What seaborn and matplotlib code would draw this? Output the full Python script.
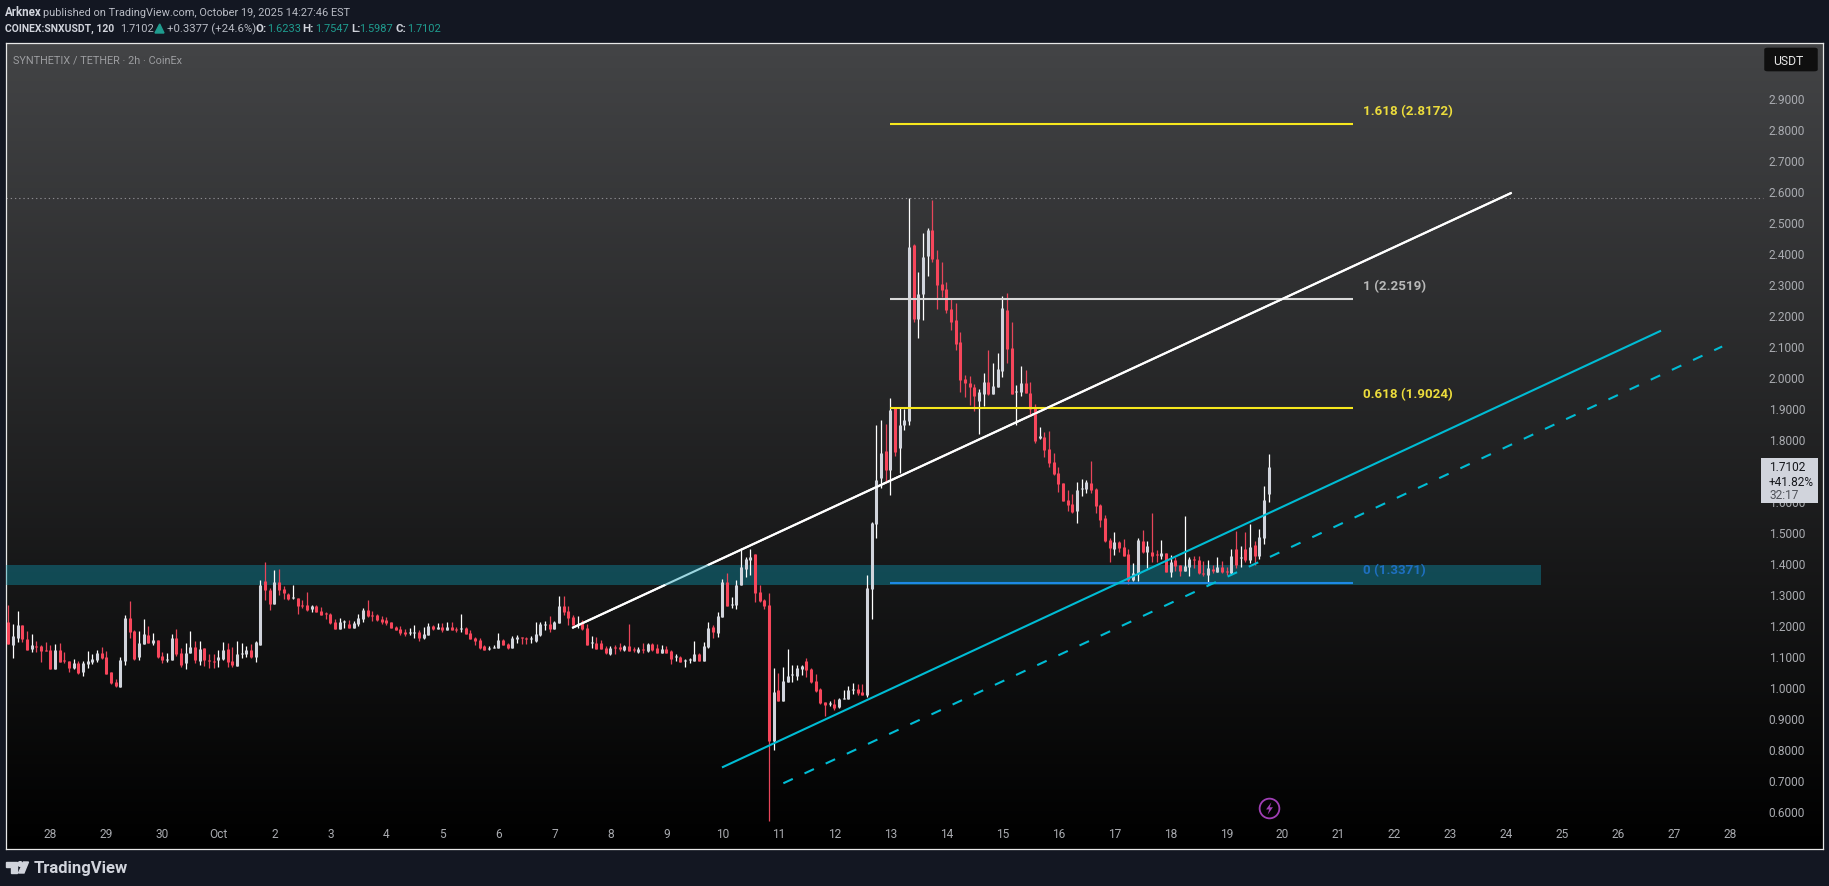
#!/usr/bin/env python3
"""SNX/USDT 2h candle chart with trend lines and fib levels, TradingView look."""
import numpy as np
import pandas as pd
import matplotlib
matplotlib.use('Agg')
import matplotlib.pyplot as plt
import seaborn as sns
from matplotlib.colors import LinearSegmentedColormap
from matplotlib.patches import Ellipse, FancyBboxPatch, Polygon, Rectangle

# candles (2h bars from Sep 27 to Oct 19)
opens = [
    1.211,1.137,1.160,1.202,1.156,1.123,1.134,1.134,1.120,1.121,
    1.060,1.121,1.088,1.085,1.063,1.079,1.050,1.076,1.082,1.089,
    1.111,1.098,1.050,1.018,1.002,1.085,1.224,1.182,1.098,1.140,
    1.169,1.144,1.153,1.102,1.090,1.089,1.160,1.111,1.079,1.111,
    1.131,1.085,1.127,1.089,1.085,1.089,1.092,1.124,1.085,1.069,
    1.109,1.108,1.121,1.098,1.137,1.344,1.314,1.269,1.340,1.318,
    1.302,1.288,1.289,1.266,1.266,1.253,1.263,1.247,1.240,1.237,
    1.211,1.189,1.211,1.205,1.192,1.205,1.221,1.250,1.233,1.234,
    1.221,1.218,1.211,1.195,1.189,1.179,1.176,1.176,1.179,1.160,
    1.169,1.198,1.189,1.195,1.185,1.195,1.189,1.188,1.192,1.176,
    1.160,1.153,1.133,1.123,1.128,1.127,1.153,1.140,1.127,1.156,
    1.162,1.159,1.156,1.150,1.169,1.202,1.205,1.189,1.208,1.263,
    1.247,1.227,1.202,1.208,1.192,1.142,1.144,1.144,1.127,1.108,
    1.130,1.130,1.121,1.134,1.124,1.114,1.124,1.118,1.140,1.127,
    1.111,1.124,1.118,1.098,1.098,1.085,1.088,1.085,1.108,1.085,
    1.131,1.195,1.176,1.227,1.340,1.265,1.266,1.331,1.382,1.411,
    1.431,1.308,1.282,1.266,0.827,0.992,0.956,1.018,1.039,1.037,
    1.060,1.085,1.060,1.021,0.995,0.953,0.947,0.947,0.937,0.963,
    0.963,0.992,0.995,0.985,0.976,1.318,1.528,1.676,1.763,1.702,
    1.902,1.773,1.847,1.859,2.427,2.188,2.269,2.392,2.475,2.382,
    2.301,2.285,2.221,2.185,2.114,1.995,1.982,1.969,1.924,1.946,
    1.985,1.946,1.969,2.021,2.217,2.095,1.953,1.953,1.982,1.950,
    1.901,1.806,1.808,1.769,1.727,1.692,1.660,1.605,1.592,1.569,
    1.641,1.640,1.660,1.640,1.589,1.547,1.476,1.447,1.469,1.453,
    1.430,1.347,1.366,1.472,1.437,1.437,1.430,1.424,1.434,1.372,
    1.411,1.395,1.376,1.389,1.415,1.411,1.369,1.363,1.382,1.372,
    1.389,1.376,1.369,1.447,1.419,1.447,1.411,1.459,1.424,1.482,
    1.6233,
]
highs = [
    1.266,1.205,1.247,1.202,1.182,1.173,1.150,1.137,1.147,1.137,
    1.140,1.144,1.114,1.085,1.092,1.085,1.085,1.118,1.108,1.121,
    1.131,1.118,1.050,1.027,1.098,1.234,1.279,1.185,1.182,1.221,
    1.198,1.176,1.153,1.114,1.111,1.173,1.189,1.127,1.144,1.182,
    1.150,1.150,1.127,1.108,1.108,1.121,1.147,1.144,1.131,1.150,
    1.144,1.134,1.140,1.150,1.347,1.405,1.321,1.379,1.382,1.327,
    1.305,1.331,1.289,1.282,1.308,1.266,1.266,1.260,1.243,1.240,
    1.221,1.224,1.218,1.218,1.214,1.237,1.256,1.282,1.247,1.237,
    1.231,1.227,1.211,1.198,1.198,1.189,1.192,1.202,1.185,1.195,
    1.208,1.202,1.208,1.208,1.211,1.211,1.195,1.237,1.195,1.185,
    1.163,1.160,1.137,1.134,1.137,1.176,1.156,1.144,1.166,1.169,
    1.163,1.163,1.166,1.211,1.211,1.214,1.231,1.214,1.295,1.295,
    1.263,1.234,1.231,1.218,1.205,1.166,1.163,1.153,1.134,1.134,
    1.137,1.144,1.137,1.205,1.131,1.131,1.144,1.144,1.144,1.140,
    1.137,1.134,1.121,1.108,1.102,1.092,1.095,1.150,1.111,1.147,
    1.211,1.202,1.243,1.350,1.369,1.292,1.347,1.450,1.421,1.447,
    1.431,1.331,1.285,1.305,1.063,1.047,1.066,1.124,1.073,1.073,
    1.073,1.095,1.063,1.043,0.998,0.953,0.956,0.963,0.966,0.992,
    1.005,1.014,1.011,1.011,1.363,1.533,1.847,1.863,1.850,1.934,
    1.905,1.902,1.898,2.579,2.430,2.340,2.466,2.482,2.572,2.411,
    2.372,2.308,2.253,2.240,2.146,2.008,2.005,1.979,1.963,2.014,
    2.088,2.046,2.079,2.263,2.272,2.179,1.975,2.037,2.024,1.985,
    1.914,1.840,1.824,1.827,1.756,1.711,1.660,1.637,1.624,1.663,
    1.672,1.669,1.731,1.643,1.592,1.556,1.482,1.501,1.472,1.479,
    1.447,1.401,1.482,1.508,1.472,1.563,1.443,1.476,1.434,1.427,
    1.421,1.395,1.553,1.421,1.424,1.424,1.408,1.411,1.395,1.421,
    1.408,1.389,1.447,1.505,1.456,1.501,1.527,1.472,1.511,1.650,
    1.7547,
]
lows = [
    1.140,1.095,1.148,1.148,1.121,1.114,1.114,1.082,1.118,1.060,
    1.060,1.082,1.079,1.050,1.060,1.043,1.037,1.063,1.076,1.082,
    1.092,1.043,1.011,1.002,1.002,1.073,1.160,1.089,1.089,1.140,
    1.144,1.137,1.095,1.079,1.082,1.089,1.102,1.066,1.060,1.111,
    1.079,1.073,1.069,1.063,1.063,1.066,1.089,1.066,1.066,1.069,
    1.095,1.098,1.095,1.082,1.137,1.282,1.250,1.269,1.298,1.285,
    1.282,1.285,1.237,1.256,1.247,1.243,1.243,1.234,1.221,1.205,
    1.189,1.189,1.192,1.192,1.192,1.198,1.211,1.227,1.214,1.214,
    1.205,1.202,1.192,1.185,1.169,1.166,1.169,1.160,1.150,1.156,
    1.169,1.185,1.189,1.179,1.185,1.185,1.179,1.180,1.173,1.156,
    1.137,1.124,1.121,1.121,1.127,1.127,1.137,1.124,1.127,1.144,
    1.140,1.140,1.144,1.147,1.166,1.185,1.179,1.189,1.208,1.234,
    1.202,1.202,1.192,1.185,1.137,1.127,1.124,1.124,1.108,1.105,
    1.108,1.118,1.118,1.118,1.114,1.111,1.111,1.114,1.118,1.111,
    1.111,1.111,1.076,1.085,1.082,1.066,1.079,1.085,1.085,1.085,
    1.127,1.160,1.163,1.227,1.263,1.256,1.253,1.331,1.356,1.363,
    1.276,1.276,1.253,0.569,0.798,0.956,0.956,1.018,1.018,1.024,
    1.040,1.034,1.014,0.985,0.947,0.908,0.940,0.927,0.934,0.963,
    0.963,0.979,0.976,0.976,0.969,1.221,1.482,1.644,1.663,1.621,
    1.747,1.692,1.831,1.846,2.179,2.127,2.185,2.327,2.372,2.221,
    2.259,2.208,2.153,2.088,1.953,1.937,1.911,1.892,1.817,1.908,
    1.943,1.946,1.969,2.001,2.046,1.946,1.846,1.940,1.950,1.875,
    1.788,1.801,1.743,1.711,1.685,1.631,1.602,1.569,1.563,1.531,
    1.618,1.627,1.627,1.563,1.518,1.469,1.405,1.427,1.437,1.424,
    1.334,1.343,1.343,1.434,1.385,1.405,1.405,1.414,1.372,1.356,
    1.376,1.360,1.376,1.360,1.385,1.366,1.360,1.334,1.369,1.372,
    1.369,1.363,1.366,1.385,1.389,1.405,1.401,1.395,1.414,1.463,
    1.5987,
]
closes = [
    1.140,1.166,1.202,1.156,1.121,1.137,1.132,1.118,1.118,1.060,
    1.121,1.082,1.084,1.063,1.079,1.047,1.079,1.085,1.092,1.111,
    1.095,1.043,1.014,1.005,1.089,1.224,1.179,1.092,1.144,1.173,
    1.144,1.153,1.098,1.089,1.092,1.160,1.108,1.073,1.111,1.131,
    1.089,1.124,1.089,1.087,1.083,1.098,1.121,1.082,1.073,1.108,
    1.111,1.121,1.098,1.147,1.331,1.314,1.269,1.340,1.314,1.305,
    1.285,1.291,1.263,1.263,1.250,1.263,1.243,1.234,1.237,1.208,
    1.189,1.211,1.214,1.192,1.208,1.224,1.250,1.230,1.231,1.218,
    1.211,1.208,1.192,1.185,1.176,1.173,1.178,1.178,1.160,1.173,
    1.198,1.189,1.195,1.185,1.195,1.185,1.187,1.191,1.173,1.156,
    1.150,1.127,1.121,1.127,1.131,1.153,1.137,1.127,1.160,1.163,
    1.159,1.156,1.160,1.173,1.205,1.205,1.189,1.211,1.263,1.243,
    1.224,1.202,1.205,1.189,1.137,1.146,1.124,1.124,1.111,1.127,
    1.127,1.124,1.134,1.118,1.121,1.124,1.121,1.140,1.121,1.111,
    1.124,1.111,1.092,1.100,1.082,1.088,1.091,1.108,1.085,1.134,
    1.192,1.179,1.231,1.340,1.263,1.268,1.331,1.389,1.414,1.421,
    1.305,1.279,1.263,0.827,0.985,0.956,1.021,1.037,1.042,1.063,
    1.069,1.056,1.018,0.989,0.949,0.944,0.950,0.934,0.963,0.966,
    0.992,0.995,0.982,0.976,1.321,1.531,1.669,1.757,1.702,1.895,
    1.760,1.847,1.863,2.421,2.188,2.269,2.388,2.475,2.382,2.298,
    2.282,2.217,2.179,2.108,1.992,1.982,1.969,1.940,1.953,1.985,
    1.946,1.972,2.027,2.224,2.092,1.946,1.956,1.982,1.950,1.898,
    1.795,1.811,1.766,1.724,1.688,1.657,1.602,1.589,1.566,1.637,
    1.643,1.663,1.637,1.585,1.540,1.472,1.450,1.469,1.450,1.424,
    1.347,1.369,1.476,1.437,1.456,1.424,1.428,1.434,1.372,1.405,
    1.392,1.376,1.392,1.414,1.412,1.369,1.366,1.385,1.376,1.389,
    1.372,1.372,1.424,1.395,1.422,1.411,1.453,1.424,1.485,1.605,
    1.7102,
]

# axis labels
day_labels = ['28', '29', '30', 'Oct'] + [str(d) for d in range(2, 29)]
day_ticks = [10 + 12 * k for k in range(len(day_labels))]
price_ticks = [round(0.6 + 0.1 * k, 1) for k in range(24)]

# drawing tools, x in bar numbers
fib_levels = [2.8172, 2.2519, 1.9024, 1.3371]
fib_names = ['1.618 (2.8172)', '1 (2.2519)', '0.618 (1.9024)', '0 (1.3371)']
fib_x = [189.8, 289.2]
zone_x = [0.5, 329.4]
zone_low, zone_high = 1.331, 1.395
white_x = [121.8, 323.1]
white_y = [1.192, 2.596]
cyan_x = [153.9, 355.1]
cyan_y = [0.742, 2.151]
dash_x = [167.05, 368.2]
dash_y = [0.691, 2.100]
high_level = 2.578
high_end = 377

W, H = 1829, 887
BG = '#131722'
UP_WICK, UP_BODY = '#ffffff', '#d1d4dc'
DOWN_WICK, DOWN_BODY = '#e8455a', '#f7465b'
TEAL = '#1f9c8f'
LIGHT = '#d1d4dc'
YELLOW, YELLOW_TXT = '#f7e81d', '#ecdc3c'
GREY, GREY_TXT = '#d9d9d9', '#b8b8b8'
BLUE, BLUE_TXT = '#1e88e5', '#1e6fc0'
CYAN = '#00bcd4'
PURPLE = '#a03fb5'

sns.set_theme(style='dark', rc={'axes.grid': False})
plt.rcParams['font.family'] = ['Roboto', 'DejaVu Sans']

fig = plt.figure(figsize=(W / 100, H / 100), dpi=100, facecolor=BG)
ax = fig.add_axes([6 / W, 1 - 850 / H, (1823 - 6) / W, (850 - 44) / H])

# background gradient
fade = LinearSegmentedColormap.from_list('fade', ['#000000', '#434446'])
ax.imshow(np.linspace(1, 0, 256).reshape(-1, 1), extent=[0, 1, 0, 1], transform=ax.transAxes,
          aspect='auto', cmap=fade, zorder=0)

# long form tables for the candles
bars = np.arange(1, len(closes) + 1)
side = np.where(np.array(closes) >= np.array(opens), 'up', 'down')
wicks = pd.DataFrame({
    'bar': np.repeat(bars, 2),
    'price': np.column_stack([lows, highs]).ravel(),
    'side': np.repeat(side, 2),
})
bodies = pd.DataFrame({
    'bar': np.repeat(bars, 2),
    'price': np.column_stack([opens, closes]).ravel(),
    'side': np.repeat(side, 2),
})

sns.lineplot(data=wicks, x='bar', y='price', hue='side', units='bar', estimator=None, sort=False,
             palette={'up': UP_WICK, 'down': DOWN_WICK}, linewidth=0.9, legend=False, ax=ax,
             zorder=4, solid_capstyle='butt')
sns.lineplot(data=bodies, x='bar', y='price', hue='side', units='bar', estimator=None, sort=False,
             palette={'up': UP_BODY, 'down': DOWN_BODY}, linewidth=2.2, legend=False, ax=ax,
             zorder=4.1, solid_capstyle='butt')

# support zone, white line runs under it inside the band
ax.plot(white_x, white_y, color='white', lw=1.5, zorder=2, solid_capstyle='butt')
ax.fill_between(zone_x, zone_low, zone_high, color='#0b99b2', alpha=0.4, lw=0, zorder=3)
x_in = np.interp(zone_low, white_y, white_x)
x_out = np.interp(zone_high, white_y, white_x)
ax.plot([white_x[0], x_in], [white_y[0], zone_low], color='white', lw=1.5, zorder=5, solid_capstyle='butt')
ax.plot([x_out, white_x[1]], [zone_high, white_y[1]], color='white', lw=1.5, zorder=5, solid_capstyle='butt')

ax.plot(cyan_x, cyan_y, color=CYAN, lw=1.5, zorder=5, solid_capstyle='butt')
ax.plot(dash_x, dash_y, color=CYAN, lw=1.5, zorder=5, dashes=(5, 6.2), dash_capstyle='butt')
ax.plot([zone_x[0], high_end], [high_level, high_level], color='#8a8b8e', lw=0.8, zorder=1.5,
        dashes=(1.2, 2.6))

# fib levels with their labels
line_cols = [YELLOW, GREY, YELLOW, BLUE]
text_cols = [YELLOW_TXT, GREY_TXT, YELLOW_TXT, BLUE_TXT]
for level, name, lc, tc in zip(fib_levels, fib_names, line_cols, text_cols):
    ax.plot(fib_x, [level, level], color=lc, lw=1.5, zorder=4.5, solid_capstyle='butt')
    ax.annotate(name, xy=(fib_x[1], level), xytext=(6.8, 10), textcoords='offset points',
                color=tc, fontsize=9.6, fontweight='bold', va='center', ha='left', zorder=6)

# event marker
ax.plot([271.2], [0.610], marker='o', ms=14.2, mfc='none', mec=PURPLE, mew=1.3, zorder=6, ls='none')
bolt = [(0.3, 1), (-0.55, -0.15), (-0.05, -0.15), (-0.3, -1), (0.55, 0.2), (0.05, 0.2)]
ax.plot([271.2], [0.610], marker=bolt, ms=9, mfc=PURPLE, mec='none', zorder=6, ls='none')

# axes
ax.set_xlim(0.5, 389.8)
ax.set_ylim(0.479, 3.079)
ax.set_xlabel('')
ax.set_ylabel('')
ax.set_xticks(day_ticks)
ax.set_xticklabels(day_labels)
ax.yaxis.tick_right()
ax.set_yticks(price_ticks)
ax.set_yticklabels([f'{p:.4f}' for p in price_ticks])
ax.tick_params(axis='x', length=0, pad=-15.5, colors='#a9abb0', labelsize=8.6)
ax.tick_params(axis='y', length=0, pad=-39, colors='#a9abb0', labelsize=8.6)
for lab in ax.get_xticklabels() + ax.get_yticklabels():
    lab.set_zorder(3)
for spine in ax.spines.values():
    spine.set_visible(True)
    spine.set_color('#e8e8e8')
    spine.set_linewidth(0.9)


def put(x, y, s, **kw):
    kw.setdefault('va', 'center')
    kw.setdefault('fontsize', 7.9)
    kw.setdefault('color', LIGHT)
    fig.text(x / W, 1 - y / H, s, **kw)


def to_fig(points):
    return [(x / W, 1 - y / H) for x, y in points]


# header
put(5.3, 12.7, 'Arknex', fontweight='bold', fontsize=8.3)
put(42.7, 12.7, 'published on TradingView.com, October 19, 2025 14:27:46 EST', color='#b8bbc4', fontsize=7.9)
put(5.3, 29.3, 'COINEX:SNXUSDT, 120', fontweight='bold', fontsize=7.5)
put(120, 29.3, '1.7102', color='#b8bbc4')
fig.add_artist(Polygon(to_fig([(155, 34), (159.7, 25), (164, 34)]), color=TEAL, transform=fig.transFigure))
put(166.7, 29.3, '+0.3377 (+24.6%)', color='#b8bbc4', fontsize=8.2)
for lx, vx, tag, val in [(255, 266.7, 'O:', '1.6233'), (302.7, 315, 'H:', '1.7547'),
                         (351, 359.3, 'L:', '1.5987'), (395.7, 406.7, 'C:', '1.7102')]:
    put(lx, 29.3, tag, fontweight='bold', fontsize=8.2)
    put(vx, 29.3, val, color=TEAL)

put(12.7, 60.5, 'SYNTHETIX / TETHER · 2h · CoinEx', color='#9c9da0', fontsize=7.8)

# currency button
ax.add_patch(FancyBboxPatch((1767 / W, 1 - 71 / H), 48 / W, 21 / H, boxstyle='round,pad=0.0015,rounding_size=0.002',
                            transform=fig.transFigure, fc='#0f0f0f', ec='none', zorder=10, clip_on=False))
ax.text(1772.7 / W, 1 - 61.5 / H, 'USDT', transform=fig.transFigure, color='#e6e6e6', fontsize=8.7,
        va='center', zorder=11)

# last price box
ax.add_patch(Rectangle((1761 / W, 1 - 504 / H), 56.7 / W, 45 / H, transform=fig.transFigure,
                       fc='#d1d4dc', ec='none', zorder=10, clip_on=False))
for y, s, c in [(467.7, '1.7102', '#15171c'), (482, '+41.82%', '#15171c'), (495.7, '32:17', '#50535a')]:
    ax.text(1769 / W, 1 - y / H, s, transform=fig.transFigure, color=c, fontsize=8.6, va='center', zorder=11)

# TradingView logo
fig.add_artist(Polygon(to_fig([(6, 863), (17, 863), (17, 874), (11, 874), (11, 867.5), (6, 867.5)]),
                       color=LIGHT, transform=fig.transFigure))
fig.add_artist(Ellipse((20.2 / W, 1 - 865 / H), 4.6 / W, 4.6 / H, color=LIGHT, transform=fig.transFigure))
fig.add_artist(Polygon(to_fig([(23.5, 863), (28.5, 863), (24, 874), (18.5, 874)]),
                       color=LIGHT, transform=fig.transFigure))
put(34, 868.5, 'TradingView', fontsize=12, fontweight='bold', color=LIGHT)

fig.savefig('out.png', dpi=100, facecolor=fig.get_facecolor())
